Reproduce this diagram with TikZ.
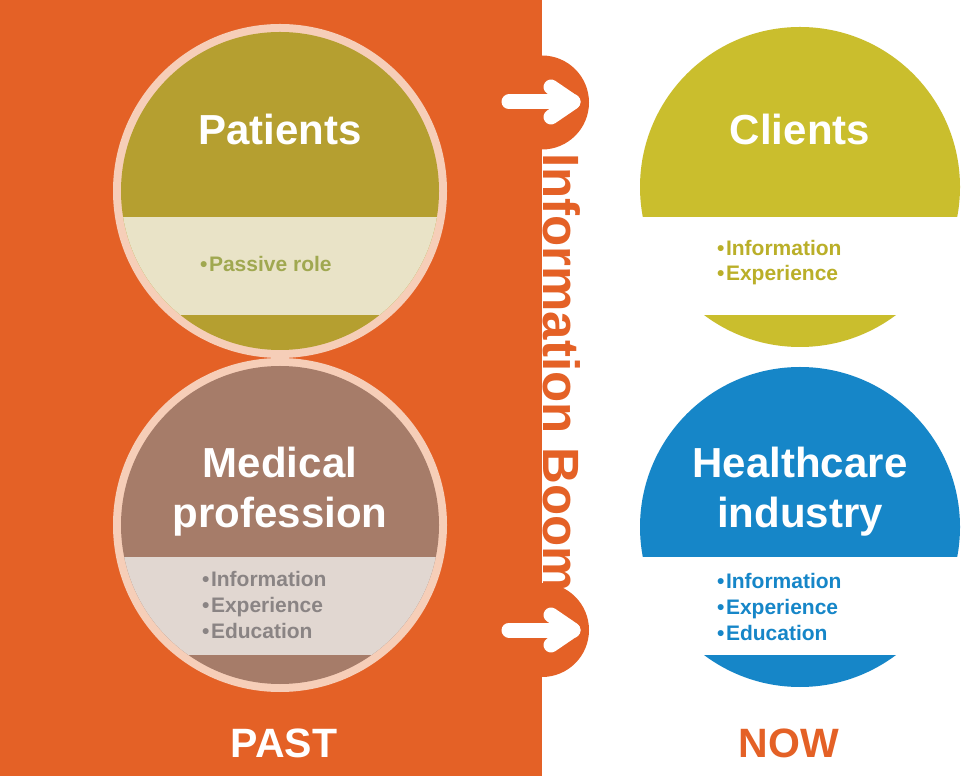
\documentclass[tikz,border=0pt]{standalone}
\usepackage{fontspec}
\setmainfont{Liberation Sans}
\usepackage{tikz}
\definecolor{boomorange}{RGB}{228,97,38}
\definecolor{ringpink}{RGB}{246,206,184}
\definecolor{pastolive}{RGB}{181,159,48}
\definecolor{pastband}{RGB}{233,227,199}
\definecolor{passivegreen}{RGB}{160,168,80}
\definecolor{medbrown}{RGB}{166,124,105}
\definecolor{medband}{RGB}{225,215,209}
\definecolor{medgrey}{RGB}{138,132,132}
\definecolor{nowyellow}{RGB}{202,190,45}
\definecolor{nowblue}{RGB}{22,134,200}
\newcommand{\dotitem}{\textbullet\hspace{1.5pt}}

\begin{document}
\begin{tikzpicture}[x=1pt,y=1pt,
  title/.style={text=white,font=\bfseries\fontsize{42}{50}\selectfont,align=center,anchor=base,inner sep=0pt},
  bullets/.style={font=\bfseries\fontsize{21}{25.5}\selectfont,align=left,anchor=base west,inner sep=0pt},
  era/.style={font=\bfseries\fontsize{41}{41}\selectfont,anchor=base,inner sep=0pt},
  whitearrow/.style={white,line width=15pt,line cap=round,line join=round}]
\useasboundingbox (0,0) rectangle (965,776);
\fill[white] (0,0) rectangle (965,776);
% past panel
\fill[boomorange] (0,0) rectangle (542,776);
\fill[boomorange] (542,673.5) circle [radius=47];
\fill[boomorange] (542,146) circle [radius=47];
\draw[whitearrow] (509,674)--(573,674);
\draw[whitearrow] (551,689)--(573,674)--(551,659);
\draw[whitearrow] (509,146)--(573,146);
\draw[whitearrow] (551,161)--(573,146)--(551,131);
\node[rotate=-90,anchor=base west,inner sep=0pt,text=boomorange,
  font=\bfseries\fontsize{51}{51}\selectfont] (boom) at (543,623) {Information Boom};
% patients
\fill[ringpink] (280,585) circle [radius=167];
\begin{scope}
\clip (280,585) circle [radius=159];
\fill[pastolive] (100,400) rectangle (460,780);
\fill[pastband] (100,461) rectangle (460,559);
\end{scope}
\node[title] (patients) at (280,631) {Patients};
\node[bullets,text=passivegreen] (passive) at (200,504) {\dotitem Passive role};
% medical profession
\fill[ringpink] (280,251) circle [radius=167];
\begin{scope}
\clip (280,251) circle [radius=159];
\fill[medbrown] (100,60) rectangle (460,440);
\fill[medband] (100,121) rectangle (460,219);
\end{scope}
\node[title] (medical) at (280,248) {Medical\\profession};
\node[bullets,text=medgrey] (medlist) at (202,138)
  {\dotitem Information\\\dotitem Experience\\\dotitem Education};
% clients
\begin{scope}
\clip (800,589) circle [radius=160];
\fill[nowyellow] (630,559) rectangle (970,760);
\fill[nowyellow] (630,400) rectangle (970,461);
\end{scope}
\node[title] (clients) at (800,631) {Clients};
\node[bullets,text=nowyellow!92!black] (clientlist) at (717,495)
  {\dotitem Information\\\dotitem Experience};
% healthcare industry
\begin{scope}
\clip (800,249) circle [radius=160];
\fill[nowblue] (630,219) rectangle (970,420);
\fill[nowblue] (630,80) rectangle (970,121);
\end{scope}
\node[title] (health) at (800,248) {Healthcare\\industry};
\node[bullets,text=nowblue] (healthlist) at (717,136)
  {\dotitem Information\\\dotitem Experience\\\dotitem Education};
% eras
\node[era,text=white] (past) at (284,19) {PAST};
\node[era,text=boomorange] (now) at (789,19) {NOW};
\end{tikzpicture}
\end{document}
